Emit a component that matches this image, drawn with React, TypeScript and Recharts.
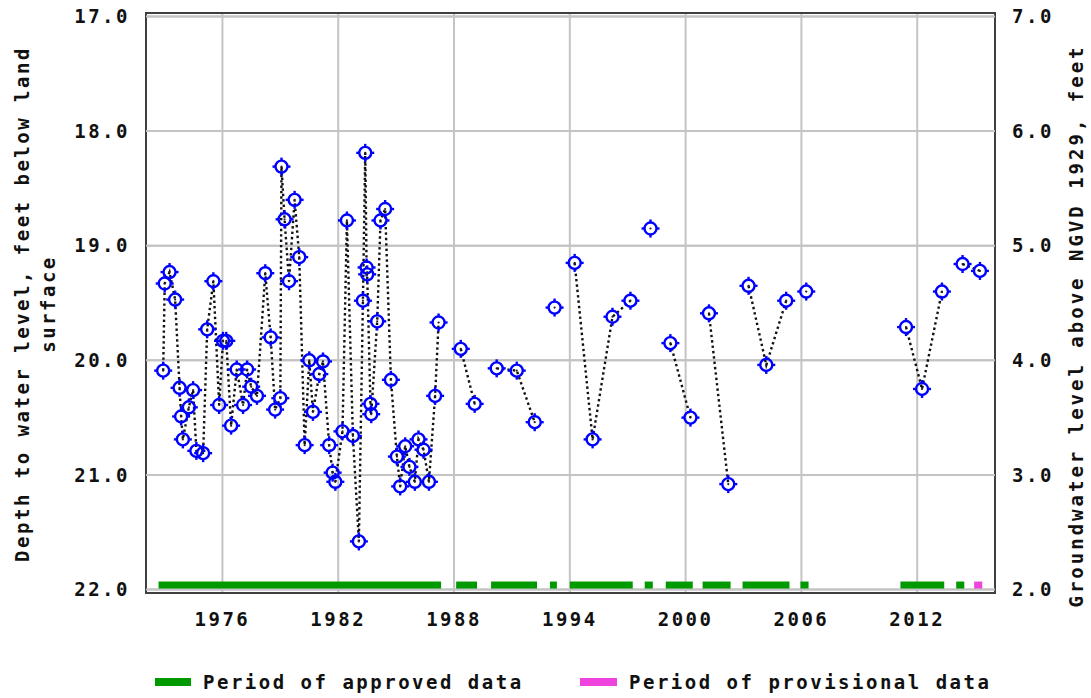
import React from "react";
import {
  ComposedChart,
  Line,
  XAxis,
  YAxis,
  CartesianGrid,
  ReferenceArea,
  ReferenceLine,
} from "recharts";

// observed depth to water level (feet below land surface)
const obsYears = [
  1972.93, 1973.01, 1973.26, 1973.55, 1973.78, 1973.86, 1973.95, 1974.26, 1974.48, 1974.65,
  1975.0, 1975.21, 1975.53, 1975.83, 1976.03, 1976.2, 1976.45, 1976.74, 1977.07, 1977.28,
  1977.49, 1977.79, 1978.22, 1978.5, 1978.73, 1979.0, 1979.06, 1979.22, 1979.45, 1979.74,
  1979.98, 1980.26, 1980.5, 1980.69, 1981.02, 1981.21, 1981.53, 1981.71, 1981.85, 1982.22,
  1982.45, 1982.76, 1983.07, 1983.28, 1983.4, 1983.47, 1983.5, 1983.67, 1983.71, 1984.02,
  1984.19, 1984.43, 1984.73, 1985.04, 1985.21, 1985.47, 1985.69, 1985.97, 1986.16, 1986.42,
  1986.7, 1987.02, 1987.2,
  1988.35, 1989.07, 1990.21, 1991.25, 1992.18, 1993.21, 1994.25, 1995.18, 1996.21, 1997.14,
  1998.18, 1999.21, 2000.25, 2001.21, 2002.21, 2003.26, 2004.18, 2005.21, 2006.25,
  2011.42, 2012.25, 2013.28, 2014.35, 2015.25,
];
const obsDepths = [
  20.09, 19.33, 19.23, 19.47, 20.24, 20.49, 20.69, 20.41, 20.26, 20.79,
  20.81, 19.73, 19.31, 20.39, 19.83, 19.83, 20.57, 20.08, 20.39, 20.08,
  20.23, 20.31, 19.24, 19.8, 20.43, 20.33, 18.31, 18.77, 19.31, 18.6,
  19.1, 20.74, 20.0, 20.45, 20.12, 20.01, 20.74, 20.98, 21.06, 20.62,
  18.78, 20.66, 21.58, 19.48, 18.19, 19.19, 19.25, 20.38, 20.47, 19.66,
  18.78, 18.68, 20.17, 20.84, 21.1, 20.75, 20.93, 21.06, 20.69, 20.78,
  21.06, 20.31, 19.67,
  19.9, 20.38, 20.07, 20.09, 20.54, 19.54, 19.15, 20.69, 19.62, 19.48,
  18.85, 19.85, 20.5, 19.59, 21.08, 19.35, 20.04, 19.48, 19.4,
  19.71, 20.25, 19.4, 19.16, 19.22,
];
// the dotted line is broken at these times
const gapYears = [1987.8, 1989.6, 1992.7, 1993.7, 1997.6, 1998.7, 2000.7, 2002.7, 2005.7, 2009, 2013.8];

const approvedStart = [1972.69, 1988.11, 1989.92, 1992.97, 1994.0, 1997.88, 1998.97, 2000.88, 2002.95, 2005.95, 2011.13, 2014.02];
const approvedEnd = [1987.33, 1989.19, 1992.3, 1993.33, 1997.26, 1998.3, 2000.37, 2002.33, 2005.38, 2006.37, 2013.4, 2014.44];
const provisionalStart = [2014.95];
const provisionalEnd = [2015.37];

const yearTicks = [1976, 1982, 1988, 1994, 2000, 2006, 2012];
const depthTicks = [17, 18, 19, 20, 21, 22];
const elevTicks = [2, 3, 4, 5, 6, 7];

const X_DOMAIN: [number, number] = [1972.04, 2016.03];
const Y_DOMAIN: [number, number] = [16.97, 22.03];
const LAND_SURFACE = 24; // elevation = 24 - depth

const chartData = [
  ...obsYears.map((t, i) => ({ t, depth: obsDepths[i] as number | null })),
  ...gapYears.map((t) => ({ t, depth: null as number | null })),
].sort((a, b) => a.t - b.t);

const FONT = "'DejaVu Sans Mono', monospace";
const GRID = "#c4c4c4";
const tickStyle = {
  fontFamily: FONT,
  fontSize: 19,
  fontWeight: "bold",
  fill: "#111",
  letterSpacing: 2.5,
};

function SiteDot(props: any) {
  const { cx, cy, value, index } = props;
  if (cy == null || value == null || cx == null) return <g key={`d-${index}`} />;
  const c = "#0000ff";
  const r = 6;
  const o = 9;
  return (
    <g key={`d-${index}`}>
      <circle cx={cx} cy={cy} r={r} fill="none" stroke={c} strokeWidth={2.4} />
      <line x1={cx} y1={cy - r} x2={cx} y2={cy - o} stroke={c} strokeWidth={2.4} />
      <line x1={cx} y1={cy + r} x2={cx} y2={cy + o} stroke={c} strokeWidth={2.4} />
      <line x1={cx - r} y1={cy} x2={cx - o} y2={cy} stroke={c} strokeWidth={2.4} />
      <line x1={cx + r} y1={cy} x2={cx + o} y2={cy} stroke={c} strokeWidth={2.4} />
      <circle cx={cx} cy={cy} r={1.1} fill="#222" />
    </g>
  );
}

function LeftTitle() {
  const cy = 304;
  const textProps = {
    fontFamily: FONT,
    fontSize: 19,
    fontWeight: "bold" as const,
    fill: "#111",
    letterSpacing: 2.5,
    textAnchor: "middle" as const,
  };
  return (
    <g>
      <text x={22} y={cy} dy="0.35em" transform={`rotate(-90, 22, ${cy})`} {...textProps}>
        Depth to water level, feet below land
      </text>
      <text x={48} y={cy} dy="0.35em" transform={`rotate(-90, 48, ${cy})`} {...textProps}>
        surface
      </text>
    </g>
  );
}

function RightTitle() {
  const cx = 1076;
  const cy = 326;
  return (
    <text
      x={cx}
      y={cy}
      dy="0.35em"
      transform={`rotate(-90, ${cx}, ${cy})`}
      fontFamily={FONT}
      fontSize={19}
      fontWeight="bold"
      fill="#111"
      letterSpacing={3}
      textAnchor="middle"
    >
      Groundwater level above NGVD 1929, feet
    </text>
  );
}

const legendText: React.CSSProperties = {
  fontFamily: FONT,
  fontSize: 19,
  fontWeight: "bold",
  color: "#111",
  letterSpacing: 2.5,
  position: "absolute",
  top: 670,
  lineHeight: "24px",
  whiteSpace: "nowrap",
};

export default function App() {
  return (
    <div style={{ position: "absolute", left: 0, top: 0, width: 1091, height: 698, background: "#fff" }}>
      <ComposedChart
        width={1091}
        height={698}
        data={chartData}
        margin={{ top: 13, right: 0, bottom: 0, left: 0 }}
      >
        <CartesianGrid yAxisId="depth" stroke={GRID} strokeWidth={2} />
        <XAxis
          dataKey="t"
          type="number"
          domain={X_DOMAIN}
          ticks={yearTicks}
          allowDataOverflow
          axisLine={false}
          tickLine={false}
          tickSize={0}
          tickMargin={20}
          height={105}
          tick={tickStyle}
        />
        <YAxis
          yAxisId="depth"
          type="number"
          domain={Y_DOMAIN}
          ticks={depthTicks}
          reversed
          allowDataOverflow
          axisLine={false}
          tickLine={false}
          tickSize={0}
          tickMargin={16}
          width={146}
          tick={tickStyle}
          tickFormatter={(v: number) => v.toFixed(1)}
          label={<LeftTitle />}
        />
        <YAxis
          yAxisId="elev"
          orientation="right"
          type="number"
          domain={[LAND_SURFACE - Y_DOMAIN[1], LAND_SURFACE - Y_DOMAIN[0]]}
          ticks={elevTicks}
          allowDataOverflow
          axisLine={false}
          tickLine={false}
          tickSize={0}
          tickMargin={17}
          width={96}
          tick={{ ...tickStyle, textAnchor: "start" }}
          tickFormatter={(v: number) => v.toFixed(1)}
          label={<RightTitle />}
        />
        {depthTicks.map((d) => (
          <ReferenceLine
            key={`h-${d}`}
            yAxisId="depth"
            y={d}
            stroke={GRID}
            strokeWidth={2}
            ifOverflow="visible"
          />
        ))}
        {approvedStart.map((s, i) => (
          <ReferenceArea
            key={`ap-${i}`}
            yAxisId="depth"
            x1={s}
            x2={approvedEnd[i]}
            y1={21.93}
            y2={21.995}
            fill="#009900"
            fillOpacity={1}
            stroke="none"
          />
        ))}
        {provisionalStart.map((s, i) => (
          <ReferenceArea
            key={`pv-${i}`}
            yAxisId="depth"
            x1={s}
            x2={provisionalEnd[i]}
            y1={21.93}
            y2={21.995}
            fill="#ee44dd"
            fillOpacity={1}
            stroke="none"
          />
        ))}
        <ReferenceArea
          yAxisId="depth"
          x1={X_DOMAIN[0]}
          x2={X_DOMAIN[1]}
          y1={Y_DOMAIN[0]}
          y2={Y_DOMAIN[1]}
          fill="none"
          fillOpacity={0}
          stroke="#404040"
          strokeWidth={2}
        />
        <Line
          yAxisId="depth"
          type="linear"
          dataKey="depth"
          stroke="#111"
          strokeWidth={2.4}
          strokeDasharray="2.4 3"
          connectNulls={false}
          dot={SiteDot}
          activeDot={false}
          isAnimationActive={false}
        />
      </ComposedChart>
      <div style={{ position: "absolute", left: 155, top: 678, width: 36, height: 8, background: "#009900" }} />
      <div style={{ ...legendText, left: 203 }}>Period of approved data</div>
      <div style={{ position: "absolute", left: 580, top: 678, width: 37, height: 8, background: "#ee44dd" }} />
      <div style={{ ...legendText, left: 629 }}>Period of provisional data</div>
    </div>
  );
}
